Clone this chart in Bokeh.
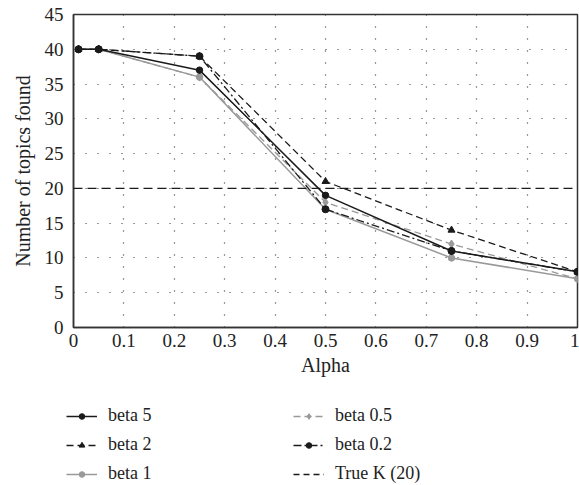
from bokeh.plotting import figure
from bokeh.layouts import column
from bokeh.models import (Range1d, FixedTicker, CustomJSTickFormatter, Legend, LegendItem, Span)
from bokeh.embed import file_html
from bokeh.resources import INLINE

alpha = [0.01, 0.05, 0.25, 0.5, 0.75, 1.0]
beta5 = [40, 40, 37, 19, 11, 8]
beta2 = [40, 40, 39, 21, 14, 8]
beta1 = [40, 40, 36, 17, 10, 7]
beta05 = [40, 40, 36, 18, 12, 7]
beta02 = [40, 40, 39, 17, 11, 8]
true_k = 20
x_ticks = [0, 0.1, 0.2, 0.3, 0.4, 0.5, 0.6, 0.7, 0.8, 0.9, 1.0]
y_ticks = [0, 5, 10, 15, 20, 25, 30, 35, 40, 45]
labels = ["beta 5", "beta 2", "beta 1", "beta 0.5", "beta 0.2", "True K (20)"]

FONT = "Liberation Serif"
BLACK = "#1a1a1a"
GRAY = "#999999"

p = figure(frame_width=504, frame_height=313, output_backend="svg", toolbar_location=None,
           x_range=Range1d(0, 1), y_range=Range1d(0, 45),
           min_border_left=73, min_border_right=2, min_border_top=14, min_border_bottom=53)
p.frame_align = False

p.xaxis.ticker = FixedTicker(ticks=x_ticks)
p.yaxis.ticker = FixedTicker(ticks=y_ticks)
p.xaxis.formatter = CustomJSTickFormatter(code="return tick.toFixed(1).replace(/\\.0$/, '');")
for ax in (p.xaxis[0], p.yaxis[0]):
    ax.major_label_text_font = FONT
    ax.major_label_text_font_size = "19px"
    ax.major_label_text_color = "#222222"
    ax.axis_label_text_font = FONT
    ax.axis_label_text_font_size = "20px"
    ax.axis_label_text_font_style = "normal"
    ax.axis_label_text_color = "#222222"
    ax.major_tick_in = 0
    ax.major_tick_out = 0
    ax.minor_tick_in = 0
    ax.minor_tick_out = 0
    ax.axis_line_color = "#333333"
    ax.axis_line_width = 1.5
p.xaxis.axis_label = "Alpha"
p.yaxis.axis_label = "Number of topics found"
p.xaxis.major_label_standoff = 6
p.yaxis.major_label_standoff = 10
p.xaxis.axis_label_standoff = 4
p.yaxis.axis_label_standoff = 8

p.outline_line_color = "#333333"
p.outline_line_width = 1.5
p.grid.grid_line_color = "#333333"
p.grid.grid_line_dash = "1 11"
p.grid.grid_line_width = 1.2

span = Span(location=true_k, dimension="width", line_color=BLACK, line_dash="9 5", line_width=1.3)
p.add_layout(span)

styles = {
    "b1": dict(color=GRAY, width=1.5, dash="solid", marker="circle", size=6.5),
    "b05": dict(color=GRAY, width=1.3, dash="7 4", marker="diamond", size=8),
    "b02": dict(color=BLACK, width=1.3, dash="8 3 2 3", marker="circle", size=7),
    "b2": dict(color=BLACK, width=1.3, dash="7 4", marker="triangle", size=7),
    "b5": dict(color=BLACK, width=1.5, dash="solid", marker="circle", size=6.5),
}
series = {"b5": beta5, "b2": beta2, "b1": beta1, "b05": beta05, "b02": beta02}
for key in ["b1", "b05", "b02", "b2", "b5"]:
    s = styles[key]
    p.line(alpha, series[key], line_color=s["color"], line_width=s["width"], line_dash=s["dash"])
    p.scatter(alpha, series[key], marker=s["marker"], size=s["size"], color=s["color"])

# legend panel
lf = figure(width=579, height=105, output_backend="svg", toolbar_location=None,
            x_range=Range1d(0, 1), y_range=Range1d(0, 45), x_axis_type=None, y_axis_type=None,
            min_border=0, outline_line_color=None)
lf.frame_align = False
lf.grid.visible = False

def leg_items(keys, names):
    out = []
    for key, name in zip(keys, names):
        if key == "tk":
            rl = lf.line(alpha, [true_k] * len(alpha), line_color=BLACK, line_dash="6 4",
                         line_width=1.3, visible=False)
            out.append(LegendItem(label=name, renderers=[rl]))
        else:
            s = styles[key]
            rl = lf.line(alpha, series[key], line_color=s["color"], line_width=s["width"],
                         line_dash=s["dash"], visible=False)
            rm = lf.scatter(alpha, series[key], marker=s["marker"], size=s["size"],
                            color=s["color"], visible=False)
            out.append(LegendItem(label=name, renderers=[rl, rm]))
    return out

common = dict(label_text_font=FONT, label_text_font_size="18px", label_text_color="#222222",
              glyph_width=31, glyph_height=14, label_height=14, spacing=8, label_standoff=11,
              border_line_color=None, background_fill_alpha=0, padding=0, margin=0,
              inactive_fill_alpha=0)
lf.add_layout(Legend(items=leg_items(["b5", "b2", "b1"], labels[:3]), location=(66, 1), **common))
lf.add_layout(Legend(items=leg_items(["b05", "b02", "tk"], labels[3:]), location=(293, 1), **common))

open("out.html", "w").write(file_html(column(p, lf, spacing=0), INLINE))
